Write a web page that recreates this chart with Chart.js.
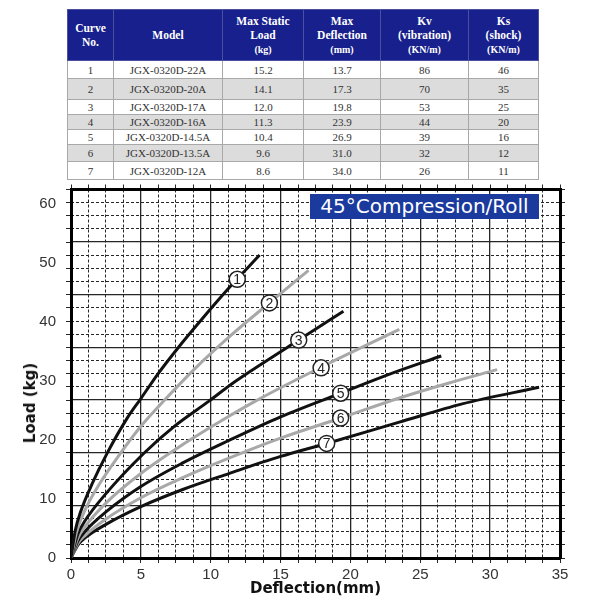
<!DOCTYPE html>
<html>
<head>
<meta charset="utf-8">
<script src="https://cdn.jsdelivr.net/npm/chart.js@4.4.1/dist/chart.umd.min.js"></script>
<style>
  html, body { margin: 0; padding: 0; background: #fff; width: 600px; height: 600px; overflow: hidden; }
  #specs { position: absolute; left: 67px; top: 9px; width: 471px; border-collapse: collapse; table-layout: fixed;
    font-family: 'Liberation Serif', 'Times New Roman', serif; font-size: 11px; color: #333; text-align: center; }
  #specs th { background: #17208c; color: #fff; font-weight: bold; font-size: 11.5px; line-height: 14px;
    height: 50px; padding: 0; border: 1px solid #4a4fa0; }
  #specs th small { font-size: 10px; }
  #specs td { padding: 0; border: 1px solid #a8a8a8; }
  #specs tr.alt td { background: #dcdcdc; }
  #chartBox { position: absolute; left: 0; top: 180px; width: 600px; height: 420px; }
  #badge { position: absolute; left: 310px; top: 194px; width: 229px; height: 25px; background: #1b3a9e; color: #fff;
    font: 20px 'DejaVu Sans', Verdana, sans-serif; line-height: 25px; text-align: center; z-index: 2; }
  #yTitle { position: absolute; left: 30px; top: 403px; transform: translate(-50%, -50%) rotate(-90deg);
    font: bold 15px 'DejaVu Sans', Verdana, sans-serif; color: #111; white-space: nowrap; z-index: 2; }
</style>
</head>
<body>
<table id="specs">
  <colgroup>
    <col style="width:46px"><col style="width:109px"><col style="width:81px">
    <col style="width:77px"><col style="width:88px"><col style="width:70px">
  </colgroup>
  <thead>
    <tr>
      <th>Curve<br>No.</th>
      <th>Model</th>
      <th>Max Static<br>Load<br><small>(kg)</small></th>
      <th>Max<br>Deflection<br><small>(mm)</small></th>
      <th>Kv<br>(vibration)<br><small>(KN/m)</small></th>
      <th>Ks<br>(shock)<br><small>(KN/m)</small></th>
    </tr>
  </thead>
  <tbody id="specRows"></tbody>
</table>

<div id="chartBox"><canvas id="loadChart"></canvas></div>
<div id="badge">45°Compression/Roll</div>
<div id="yTitle">Load (kg)</div>

<script>
// table values
const curveNo = ['1', '2', '3', '4', '5', '6', '7'];
const models = ['JGX-0320D-22A', 'JGX-0320D-20A', 'JGX-0320D-17A', 'JGX-0320D-16A',
                'JGX-0320D-14.5A', 'JGX-0320D-13.5A', 'JGX-0320D-12A'];
const maxLoad = ['15.2', '14.1', '12.0', '11.3', '10.4', '9.6', '8.6'];
const maxDefl = ['13.7', '17.3', '19.8', '23.9', '26.9', '31.0', '34.0'];
const kv = ['86', '70', '53', '44', '39', '32', '26'];
const ks = ['46', '35', '25', '20', '16', '12', '11'];

// curve readings: deflection (mm) / load (kg)
const curve1X = [0, 0.3, 0.7, 1.5, 2.6, 4, 5, 6.2, 7.6, 9.5, 11.3, 13.5];
const curve1Y = [0, 4.6, 7.9, 12.5, 17.8, 23.6, 27, 31.1, 35.4, 40.8, 45.7, 51.3];
const curve2X = [0, 0.4, 1, 2, 3.5, 5, 6.8, 8.8, 11.4, 14.2, 17];
const curve2Y = [0, 4.4, 8.1, 12.4, 17.6, 22.3, 27, 31.9, 37.6, 43.2, 48.7];
const curve3X = [0, 0.5, 1, 2.5, 5.2, 7.5, 9.9, 11.4, 14, 16.3, 19.5];
const curve3Y = [0, 4.1, 6.3, 10.9, 17.7, 22.5, 26.6, 29.3, 33.4, 36.9, 41.8];
const curve4X = [0, 0.5, 1, 2.5, 5, 8, 11.3, 13.3, 17.9, 23.5];
const curve4Y = [0, 3.4, 5.3, 9.3, 14.3, 19.2, 24, 26.7, 32.3, 38.7];
const curve5X = [0, 0.5, 1, 2.5, 5, 8, 11.3, 15, 19.3, 23, 26.5];
const curve5Y = [0, 2.9, 4.5, 7.8, 12.1, 16.1, 19.9, 23.9, 27.9, 31.3, 34.2];
const curve6X = [0, 0.5, 1, 2.5, 5, 8, 11.3, 15, 19.3, 23.5, 27, 30.5];
const curve6Y = [0, 2.5, 3.8, 6.6, 10.2, 13.6, 16.9, 20.3, 23.7, 27.1, 29.6, 31.9];
const curve7X = [0, 0.5, 1, 2.5, 5, 8, 11.3, 15, 18.3, 23.5, 28, 33.5];
const curve7Y = [0, 2.2, 3.4, 5.7, 8.7, 11.6, 14.3, 17.2, 19.4, 23, 26.1, 28.9];

// where the circled numbers sit on each curve
const tagX = [11.9, 14.2, 16.3, 17.9, 19.3, 19.3, 18.3];
const tagY = [47.2, 43.2, 36.9, 32.2, 27.9, 23.7, 19.4];

const xTicks = [0, 5, 10, 15, 20, 25, 30, 35];
const yTicks = [0, 10, 20, 30, 40, 50, 60];

// fill the table
const rowHeights = [18, 21, 15, 15, 15, 17, 18];
const body = document.getElementById('specRows');
curveNo.forEach((n, i) => {
    const tr = document.createElement('tr');
    if (i % 2 === 1) tr.className = 'alt';
    tr.style.height = rowHeights[i] + 'px';
    [n, models[i], maxLoad[i], maxDefl[i], kv[i], ks[i]].forEach(v => {
        const td = document.createElement('td');
        td.textContent = v;
        tr.appendChild(td);
    });
    body.appendChild(tr);
});

const BLACK = '#111';
const GRAY = '#a8a8a8';
const GRID = '#262626';
const curveColors = [BLACK, GRAY, BLACK, GRAY, BLACK, GRAY, BLACK];
const curves = [[curve1X, curve1Y], [curve2X, curve2Y], [curve3X, curve3Y], [curve4X, curve4Y],
                [curve5X, curve5Y], [curve6X, curve6Y], [curve7X, curve7Y]];

const toPoints = (xs, ys) => xs.map((x, i) => ({ x: x, y: ys[i] }));

const datasets = [{
    // circled curve numbers (first dataset -> drawn on top)
    data: toPoints(tagX, tagY),
    showLine: false,
    pointRadius: 8,
    pointBackgroundColor: '#fff',
    pointBorderColor: '#222',
    pointBorderWidth: 1.5
}];
curves.forEach((c, i) => {
    datasets.push({
        data: toPoints(c[0], c[1]),
        borderColor: curveColors[i],
        borderWidth: 3,
        pointRadius: 0,
        cubicInterpolationMode: 'monotone',
        fill: false
    });
});

// digits inside the circles
const curveTags = {
    id: 'curveTags',
    afterDatasetsDraw(chart) {
        const meta = chart.getDatasetMeta(0);
        const ctx = chart.ctx;
        ctx.save();
        ctx.font = '14px "Liberation Sans", Arial, sans-serif';
        ctx.fillStyle = '#222';
        ctx.textAlign = 'center';
        ctx.textBaseline = 'middle';
        meta.data.forEach((pt, i) => ctx.fillText(curveNo[i], pt.x, pt.y + 1));
        ctx.restore();
    }
};

const tickFont = { family: "'Liberation Sans', Arial, sans-serif", size: 15 };
const minorColor = ctx => (ctx.index % 4 === 0 ? 'rgba(0,0,0,0)' : GRID);
// keep label overhang from pushing the plot area around
const noPad = s => { s.paddingTop = 0; s.paddingBottom = 0; s.paddingLeft = 0; s.paddingRight = 0; };

new Chart(document.getElementById('loadChart'), {
    type: 'line',
    data: { datasets },
    plugins: [curveTags],
    options: {
        responsive: true,
        maintainAspectRatio: false,
        animation: false,
        layout: { padding: { top: 7, right: 40, left: 0, bottom: 0 } },
        plugins: { legend: { display: false }, tooltip: { enabled: false } },
        scales: {
            x: {
                type: 'linear', min: 0, max: 35, position: 'bottom', weight: 10,
                afterBuildTicks: s => { s.ticks = xTicks.map(v => ({ value: v })); },
                ticks: { padding: 8, color: '#333', font: tickFont },
                grid: { color: GRID, lineWidth: 1.3, drawTicks: false },
                border: { color: '#000', width: 3 },
                title: {
                    display: true, text: 'Deflection(mm)', color: '#111',
                    font: { family: "'DejaVu Sans', Verdana, sans-serif", size: 15, weight: 'bold' },
                    padding: { top: 0, bottom: 2 }
                },
                afterFit: s => { s.height = 42; noPad(s); }
            },
            xMinor: {
                type: 'linear', min: 0, max: 35, position: 'bottom', weight: 0,
                ticks: { display: false, stepSize: 1.25 },
                grid: { color: minorColor, lineWidth: 1, tickColor: GRID, tickLength: 5 },
                border: { display: false, dash: [3, 2] },
                afterFit: s => { s.height = 0; noPad(s); }
            },
            xTop: {
                type: 'linear', min: 0, max: 35, position: 'top', weight: 0,
                ticks: { display: false, stepSize: 1.25 },
                grid: { drawOnChartArea: false, tickColor: GRID, tickLength: 5 },
                border: { color: '#000', width: 3 },
                afterFit: s => { s.height = 0; noPad(s); }
            },
            y: {
                type: 'linear', min: 0, max: 62.4, position: 'left', weight: 10,
                afterBuildTicks: s => { s.ticks = yTicks.map(v => ({ value: v })); },
                ticks: { padding: 15, color: '#333', font: tickFont },
                grid: { display: false, drawTicks: false },
                border: { color: '#000', width: 3 },
                afterFit: s => { s.width = 71; noPad(s); }
            },
            yMajor: {
                type: 'linear', min: 0, max: 7, position: 'left', weight: 0,
                ticks: { display: false, stepSize: 1 },
                grid: { color: GRID, lineWidth: 1.3, drawTicks: false },
                border: { display: false },
                afterFit: s => { s.width = 0; noPad(s); }
            },
            yMinor: {
                type: 'linear', min: 0, max: 7, position: 'left', weight: 0,
                ticks: { display: false, stepSize: 0.25 },
                grid: { color: minorColor, lineWidth: 1, tickColor: GRID, tickLength: 5 },
                border: { display: false, dash: [3, 2] },
                afterFit: s => { s.width = 0; noPad(s); }
            },
            yRight: {
                type: 'linear', min: 0, max: 7, position: 'right', weight: 0,
                ticks: { display: false, stepSize: 0.25 },
                grid: { drawOnChartArea: false, tickColor: GRID, tickLength: 5 },
                border: { color: '#000', width: 3 },
                afterFit: s => { s.width = 0; noPad(s); }
            }
        }
    }
});
</script>
</body>
</html>
